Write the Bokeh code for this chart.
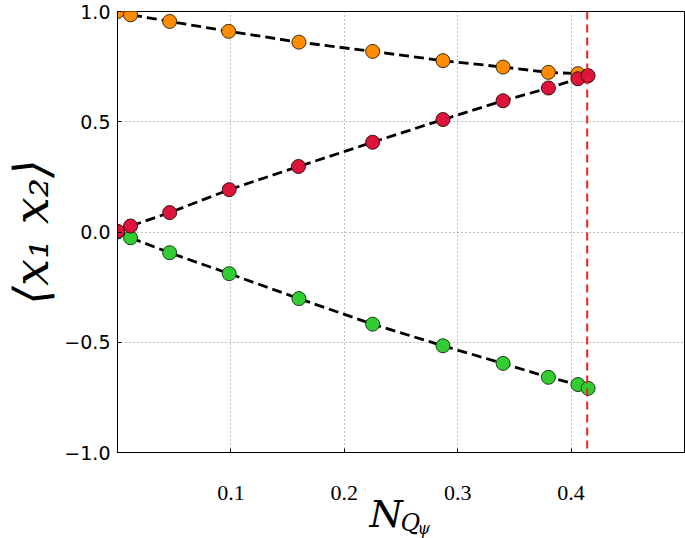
from bokeh.plotting import figure
from bokeh.layouts import column
from bokeh.models import Range1d, FixedTicker, Label, Span
from bokeh.embed import file_html
from bokeh.resources import INLINE

# data
x_orange = [0.0, 0.0115, 0.046, 0.098, 0.160, 0.225, 0.287, 0.340, 0.380, 0.406, 0.4142]
y_orange = [1.0, 0.985, 0.955, 0.910, 0.861, 0.819, 0.777, 0.748, 0.724, 0.718, 0.707]

x_red = [0.0, 0.0115, 0.046, 0.0985, 0.1596, 0.225, 0.287, 0.340, 0.380, 0.406, 0.415]
y_red = [0.003, 0.027, 0.088, 0.192, 0.297, 0.407, 0.510, 0.595, 0.653, 0.695, 0.709]

x_green = [0.0, 0.0115, 0.046, 0.0985, 0.160, 0.225, 0.287, 0.340, 0.380, 0.406, 0.415]
y_green = [0.0, -0.026, -0.094, -0.189, -0.302, -0.418, -0.516, -0.596, -0.659, -0.692, -0.709]

x_critical = 0.4142

x_ticks = [0.1, 0.2, 0.3, 0.4]
x_tick_labels = ["0.1", "0.2", "0.3", "0.4"]
y_ticks = [-1.0, -0.5, 0.0, 0.5, 1.0]
y_tick_labels = ["\u22121.0", "\u22120.5", "0.0", "0.5", "1.0"]

xr = Range1d(0, 0.5)

p = figure(width=685, height=538, output_backend="svg", toolbar_location=None,
           x_range=xr, y_range=Range1d(-1, 1),
           min_border_left=117, min_border_right=1, min_border_top=11, min_border_bottom=86)
p.background_fill_color = "white"
p.border_fill_color = "white"
p.outline_line_color = "black"
p.outline_line_width = 1

p.xaxis.ticker = FixedTicker(ticks=x_ticks)
p.yaxis.ticker = FixedTicker(ticks=y_ticks)
p.xaxis.major_label_overrides = {t: l for t, l in zip(x_ticks, x_tick_labels)}
p.yaxis.major_label_overrides = {t: l for t, l in zip(y_ticks, y_tick_labels)}
for ax in (p.xaxis, p.yaxis):
    ax.minor_tick_line_color = None
    ax.major_tick_in = 4
    ax.major_tick_out = 0
    ax.major_tick_line_color = "black"
    ax.axis_line_color = "black"
p.xaxis.major_label_text_font = "Liberation Serif"
p.xaxis.major_label_text_font_size = "22px"
p.xaxis.major_label_text_color = "black"
p.xaxis.major_label_standoff = 33
p.yaxis.major_label_text_font = "DejaVu Sans"
p.yaxis.major_label_text_font_size = "19px"
p.yaxis.major_label_text_color = "black"
p.yaxis.major_label_standoff = 7

p.xgrid.grid_line_color = "#808080"
p.xgrid.grid_line_dash = "1 3"
p.xgrid.grid_line_width = 1
p.ygrid.grid_line_color = "#808080"
p.ygrid.grid_line_dash = "1 3"
p.ygrid.grid_line_width = 1

p.yaxis.axis_label = "\u27e8x\u2081 x\u2082\u27e9"
p.yaxis.axis_label_text_font = "DejaVu Serif"
p.yaxis.axis_label_text_font_style = "italic"
p.yaxis.axis_label_text_font_size = "48px"
p.yaxis.axis_label_text_color = "black"
p.yaxis.axis_label_standoff = 2

# dashed guide lines through the points
for xs, ys in ((x_orange, y_orange), (x_red, y_red), (x_green, y_green)):
    p.line(xs, ys, line_color="black", line_width=2.8, line_dash="10 5")

p.add_layout(Span(location=x_critical, dimension="height", line_color="#ee2020",
                  line_width=2, line_dash="8 5"))

p.scatter(x_orange, y_orange, size=14, fill_color="#ff8c00", line_color="#3a2a10", line_width=1)
p.scatter(x_green, y_green, size=14, fill_color="#32cd32", line_color="#1a3a1a", line_width=1)
p.scatter(x_red, y_red, size=14, fill_color="#dc143c", line_color="#3a1010", line_width=1)

# transparent strip laid over the bottom of the plot, carrying the x label N_{Q_psi}
lab = figure(width=685, height=50, output_backend="svg", toolbar_location=None,
             x_range=xr, y_range=Range1d(0, 1),
             x_axis_location=None, y_axis_location=None,
             min_border=0, min_border_left=117, min_border_right=1,
             min_border_top=0, min_border_bottom=0)
lab.outline_line_color = None
lab.background_fill_alpha = 0
lab.border_fill_alpha = 0
lab.grid.visible = False
lab.margin = (-50, 0, 0, 0)

lab.add_layout(Label(x=0.2222, y=25, y_units="screen", text="N",
                     text_font="DejaVu Serif", text_font_style="italic",
                     text_font_size="38px", text_color="black", text_baseline="middle"))
lab.add_layout(Label(x=0.2496, y=16, y_units="screen", text="Q",
                     text_font="DejaVu Serif", text_font_style="italic",
                     text_font_size="24px", text_color="black", text_baseline="middle"))
lab.add_layout(Label(x=0.2646, y=10, y_units="screen", text="\u03c8",
                     text_font="DejaVu Serif", text_font_style="italic",
                     text_font_size="16px", text_color="black", text_baseline="middle"))

layout = column(p, lab, spacing=0)
open("out.html", "w").write(file_html(layout, INLINE))
